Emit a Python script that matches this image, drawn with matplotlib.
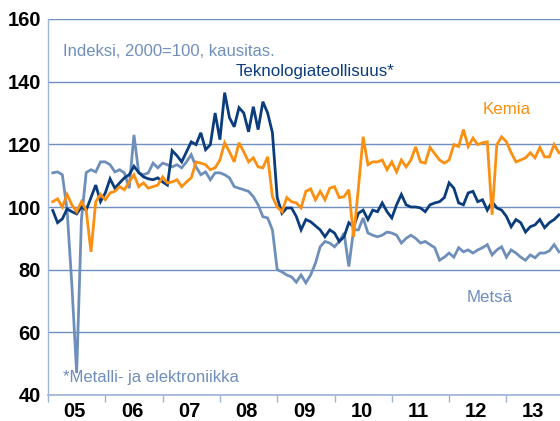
import numpy as np
import matplotlib
matplotlib.use("Agg")
import matplotlib.pyplot as plt
from matplotlib.ticker import FixedLocator, NullFormatter

# monthly index values, Feb 2005 - Dec 2013
tekno = [
    98.9, 95, 96.2, 99.4, 98.5, 97.8, 100, 99, 103, 107, 101.7, 104.5,
    109, 106, 107.7, 109.3, 110.3, 113, 111, 109.6, 109, 108.7, 109.3, 108,
    107, 118, 116.4, 114.4, 117.6, 120.8, 119.9, 123.7, 118.3, 119.9, 130, 121.5,
    136.5, 128.5, 125.6, 131.7, 130, 124, 132, 124.7, 133.6, 130, 123.7, 103,
    98, 99.7, 99.7, 97, 92.7, 96, 95.3, 94, 92.7, 90.5, 92.7, 91.7,
    89, 90.5, 95, 93.7, 98, 99, 96, 99, 98.5, 101.3, 98.5, 96.5,
    100.7, 104, 100.7, 100, 100, 99.7, 98.5, 100.7, 101.3, 101.7, 103, 107.7,
    106, 101.3, 100.7, 104.5, 105, 101.7, 102.3, 99, 101.7, 99.7, 99, 97,
    93.7, 96, 95, 92, 93.7, 94.3, 96, 93.4, 95, 96, 97.5,
]
kemia = [
    101.7, 102.6, 100, 104, 100.7, 98.5, 101.7, 99, 85.7, 101.7, 104, 102.3,
    104.5, 105, 106.5, 105.5, 108, 110.3, 106.5, 107.7, 106, 106.5, 107, 109.6,
    107.7, 108, 108.7, 106.5, 108, 109.3, 114.4, 114, 113.5, 111.9, 112.5, 115,
    120.5, 117.6, 114.4, 120.5, 117.6, 114.4, 115.7, 112.8, 112.5, 116, 103.3, 100,
    98.5, 103, 101.7, 101.3, 99.7, 105, 105.8, 102.3, 105, 102.3, 106, 106.5,
    103, 103.3, 105.5, 90.5, 106, 122.4, 113.5, 114.4, 114.4, 115, 111.9, 114.4,
    111.2, 115, 112.8, 115, 119.2, 114.4, 114, 119, 117, 115, 114, 115,
    119.9, 119.3, 124.7, 119.3, 122, 119.9, 120.5, 120.8, 97.5, 119.9, 122.4, 120.8,
    117.3, 114.4, 115, 115.7, 117.3, 115.7, 119, 116, 116, 119.9, 117.3,
]
metsa = [
    110.9, 111.2, 110.3, 99, 75, 47, 96, 111, 111.9, 111.2, 114.4, 114.4,
    113.5, 111.2, 111.9, 110.9, 106, 123, 110.9, 110.3, 110.9, 114, 112.5, 114,
    113.5, 112.8, 113.5, 112.5, 114.4, 116.7, 112.8, 110.3, 111.2, 108.7, 110.9, 110.9,
    110.3, 109.3, 106.5, 106, 105.5, 105, 103.3, 100.7, 96.9, 96.5, 92.7, 80,
    79.3, 78.3, 77.7, 76, 78.3, 75.8, 78.3, 82, 87.3, 89, 88.5, 87.3,
    89, 91.7, 81, 92.7, 92.7, 96.5, 91.7, 91, 90.5, 91, 92, 91.7,
    91, 88.5, 90, 91, 90, 88.5, 89, 88, 87, 83, 84, 85.3,
    84, 87, 85.7, 86.3, 85.3, 86.3, 87, 88, 84.7, 86.3, 87.3, 84,
    86.3, 85.3, 84, 83, 84.7, 83.8, 85.3, 85.3, 86, 88, 85.7,
]
years = list(range(2005, 2014))
year_labels = ["05", "06", "07", "08", "09", "10", "11", "12", "13"]

TEKNO_C = "#0b3d7d"
KEMIA_C = "#fb8f12"
METSA_C = "#6f8fbb"
GRID_C = "#6e8fc0"
AXIS_C = "#9db4d6"

plt.rcParams["font.family"] = ["Liberation Sans", "DejaVu Sans"]

months = 2005 + (np.arange(len(tekno)) + 1) / 12.0

fig = plt.figure(figsize=(5.6, 4.21), dpi=100)
ax = fig.add_axes([48 / 560, 1 - 395 / 421, 1 - 48 / 560, (395 - 19) / 421])

ax.plot(months, metsa, color=METSA_C, lw=2.0, solid_joinstyle="miter", zorder=3)
ax.plot(months, tekno, color=TEKNO_C, lw=2.0, solid_joinstyle="miter", zorder=4)
ax.plot(months, kemia, color=KEMIA_C, lw=2.0, solid_joinstyle="miter", zorder=5)

ax.set_ylim(40, 160)
ax.set_xlim(2005, 2005 + 512 / 57.3)
ax.set_yticks(range(40, 161, 20))
ax.yaxis.grid(True, color=GRID_C, lw=1.0)
ax.set_axisbelow(True)

ax.xaxis.set_major_locator(FixedLocator(years))
ax.xaxis.set_major_formatter(NullFormatter())
ax.xaxis.set_minor_locator(FixedLocator([y + 0.47 for y in years]))
ax.set_xticklabels(year_labels, minor=True)
ax.tick_params(axis="x", which="major", length=5, width=1, color=AXIS_C, direction="out")
ax.tick_params(axis="x", which="minor", length=0, pad=5)
ax.tick_params(axis="y", length=0, pad=5)
for lab in ax.get_xticklabels(minor=True) + ax.get_yticklabels():
    lab.set_fontsize(14.5)
    lab.set_fontweight("bold")

for side in ("top", "right"):
    ax.spines[side].set_visible(False)
ax.spines["left"].set_color(AXIS_C)
ax.spines["bottom"].set_color(AXIS_C)
ax.spines["left"].set_linewidth(1.0)
ax.spines["bottom"].set_linewidth(1.2)

# series labels and notes
ax.text(2005.27, 149.5, "Indeksi, 2000=100, kausitas.", color=METSA_C,
        fontsize=12, va="center", ha="left")
ax.text(2008.28, 143.2, "Teknologiateollisuus*", color=TEKNO_C,
        fontsize=12.2, va="center", ha="left")
ax.text(2012.59, 131, "Kemia", color=KEMIA_C,
        fontsize=12.2, va="center", ha="left")
ax.text(2012.3, 71, "Metsä", color=METSA_C,
        fontsize=12.2, va="center", ha="left")
ax.text(2005.27, 45.7, "*Metalli- ja elektroniikka", color=METSA_C,
        fontsize=12, va="center", ha="left")

fig.savefig("out.png", dpi=100)
plt.close(fig)
